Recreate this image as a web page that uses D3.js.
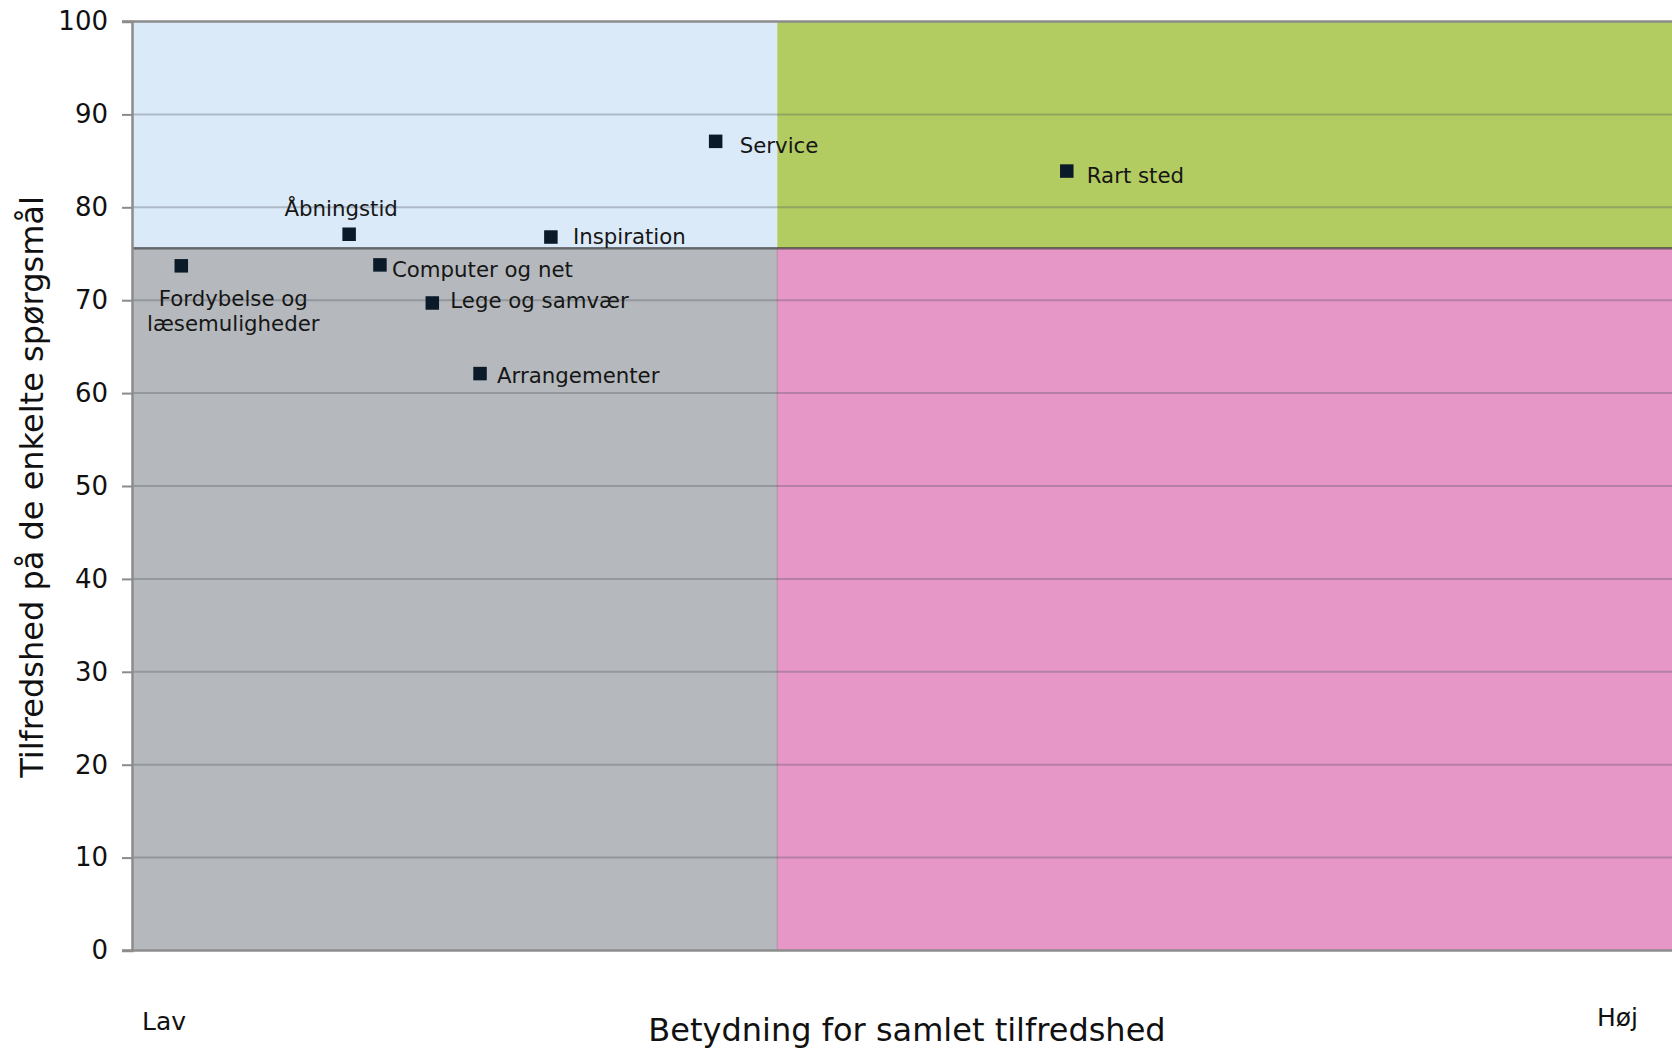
<!DOCTYPE html>
<html>
<head>
<meta charset="utf-8">
<script src="https://cdn.jsdelivr.net/npm/d3@7"></script>
<style>
  html, body { margin: 0; padding: 0; background: #fff; }
  svg { display: block; font-family: "DejaVu Sans", Verdana, sans-serif; }
</style>
</head>
<body>
<svg id="chart" width="1672" height="1048"></svg>
<script>
// Questions, their importance for overall satisfaction (x) and satisfaction score (y)
const questions = ["Fordybelse og læsemuligheder", "Åbningstid", "Computer og net", "Lege og samvær",
                   "Arrangementer", "Inspiration", "Service", "Rart sted"];
const importance = [3.2, 14.1, 16.1, 19.5, 22.6, 27.2, 37.9, 60.7];
const satisfaction = [73.7, 77.1, 73.8, 69.7, 62.1, 76.8, 87.1, 83.9];

// Quadrant split values
const importanceSplit = 41.9;
const satisfactionSplit = 75.6;

const yTicks = [0, 10, 20, 30, 40, 50, 60, 70, 80, 90, 100];

const svg = d3.select("#chart");
const margin = { left: 132, right: 0, top: 21.5, bottom: 97.5 };
const W = 1672, H = 1048;

const x = d3.scaleLinear().domain([0, 100]).range([margin.left, W - margin.right]);
const y = d3.scaleLinear().domain([0, 100]).range([H - margin.bottom, margin.top]);

// Quadrant backgrounds
const quads = [
  { x0: 0, x1: importanceSplit, y0: satisfactionSplit, y1: 100, fill: "#dbeaf8" },
  { x0: importanceSplit, x1: 100, y0: satisfactionSplit, y1: 100, fill: "#b2cc62" },
  { x0: 0, x1: importanceSplit, y0: 0, y1: satisfactionSplit, fill: "#b5b9bd" },
  { x0: importanceSplit, x1: 100, y0: 0, y1: satisfactionSplit, fill: "#e697c7" }
];
svg.append("g").selectAll("rect").data(quads).join("rect")
  .attr("x", d => x(d.x0)).attr("y", d => y(d.y1))
  .attr("width", d => x(d.x1) - x(d.x0)).attr("height", d => y(d.y0) - y(d.y1))
  .attr("fill", d => d.fill);

// Horizontal gridlines
svg.append("g").selectAll("line").data(yTicks.filter(t => t > 0 && t < 100)).join("line")
  .attr("x1", x(0)).attr("x2", x(100))
  .attr("y1", d => y(d)).attr("y2", d => y(d))
  .attr("stroke", "rgba(70,75,85,0.3)").attr("stroke-width", 2);

// Quadrant dividers
svg.append("line")
  .attr("x1", x(importanceSplit)).attr("x2", x(importanceSplit))
  .attr("y1", y(satisfactionSplit)).attr("y2", y(0))
  .attr("stroke", "rgba(120,60,100,0.35)").attr("stroke-width", 1);
svg.append("line")
  .attr("x1", x(0)).attr("x2", x(100))
  .attr("y1", y(satisfactionSplit)).attr("y2", y(satisfactionSplit))
  .attr("stroke", "rgba(50,50,50,0.65)").attr("stroke-width", 2.5);

// Top border
svg.append("line")
  .attr("x1", x(0) - 10).attr("x2", x(100))
  .attr("y1", y(100)).attr("y2", y(100))
  .attr("stroke", "#8c8c8c").attr("stroke-width", 2.5);

// Y axis
const yAxis = svg.append("g")
  .attr("transform", `translate(${x(0)},0)`)
  .call(d3.axisLeft(y).tickValues(yTicks).tickSize(10).tickPadding(14));
yAxis.select(".domain").attr("stroke", "#8c8c8c").attr("stroke-width", 2.5);
yAxis.selectAll(".tick line").attr("stroke", "#8c8c8c").attr("stroke-width", 2);
yAxis.selectAll(".tick text")
  .attr("font-size", 26).attr("fill", "#111")
  .attr("font-family", "DejaVu Sans, Verdana, sans-serif");

// X baseline
svg.append("line")
  .attr("x1", x(0) - 10).attr("x2", x(100))
  .attr("y1", y(0)).attr("y2", y(0))
  .attr("stroke", "#8c8c8c").attr("stroke-width", 2.5);

// Points
const pts = questions.map((q, i) => ({ q, vx: importance[i], vy: satisfaction[i] }));
const size = 13.5;
svg.append("g").selectAll("rect").data(pts).join("rect")
  .attr("x", d => x(d.vx) - size / 2).attr("y", d => y(d.vy) - size / 2)
  .attr("width", size).attr("height", size)
  .attr("fill", "#0b1a28");

// Point labels: offsets relative to each marker
const labelPos = {
  "Fordybelse og læsemuligheder": { dx: 52, dy: 32, anchor: "middle", lines: ["Fordybelse og", "læsemuligheder"] },
  "Åbningstid": { dx: -8, dy: -26, anchor: "middle" },
  "Computer og net": { dx: 12, dy: 4, anchor: "start" },
  "Lege og samvær": { dx: 18, dy: -3, anchor: "start" },
  "Arrangementer": { dx: 17, dy: 1, anchor: "start" },
  "Inspiration": { dx: 22, dy: -1, anchor: "start" },
  "Service": { dx: 24, dy: 4, anchor: "start" },
  "Rart sted": { dx: 20, dy: 4, anchor: "start" }
};
const labels = svg.append("g").attr("font-size", 21.3).attr("fill", "#161616");
pts.forEach(d => {
  const p = labelPos[d.q];
  const lines = p.lines || [d.q];
  const t = labels.append("text")
    .attr("text-anchor", p.anchor)
    .attr("x", x(d.vx) + p.dx)
    .attr("y", y(d.vy) + p.dy)
    .attr("dominant-baseline", "central");
  lines.forEach((ln, i) => {
    t.append("tspan").attr("x", x(d.vx) + p.dx).attr("dy", i === 0 ? 0 : 25.5).text(ln);
  });
});

// Axis titles
svg.append("text")
  .attr("transform", `translate(32,487) rotate(-90)`)
  .attr("text-anchor", "middle").attr("dominant-baseline", "central")
  .attr("font-size", 32).attr("fill", "#111")
  .text("Tilfredshed på de enkelte spørgsmål");

svg.append("text")
  .attr("x", 907).attr("y", 1030)
  .attr("text-anchor", "middle").attr("dominant-baseline", "central")
  .attr("font-size", 32).attr("fill", "#111")
  .text("Betydning for samlet tilfredshed");

svg.append("text")
  .attr("x", 142).attr("y", 1021)
  .attr("text-anchor", "start").attr("dominant-baseline", "central")
  .attr("font-size", 25).attr("fill", "#111")
  .text("Lav");

svg.append("text")
  .attr("x", 1638).attr("y", 1017)
  .attr("text-anchor", "end").attr("dominant-baseline", "central")
  .attr("font-size", 25).attr("fill", "#111")
  .text("Høj");
</script>
</body>
</html>
